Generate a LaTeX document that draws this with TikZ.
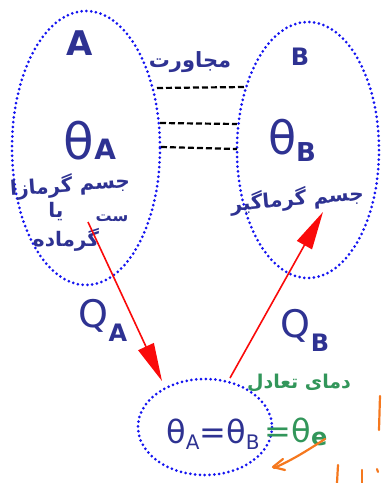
\documentclass[tikz,border=0pt]{standalone}
\usepackage{fontspec}
\setmainfont{DejaVu Sans}
\newfontfamily\fa[Script=Arabic]{DejaVu Sans}
\TeXXeTstate=1
\usetikzlibrary{arrows.meta}
\definecolor{ink}{RGB}{46,50,146}
\definecolor{dotblue}{RGB}{20,20,240}
\definecolor{hred}{RGB}{250,10,10}
\definecolor{hgreen}{RGB}{50,150,90}
\definecolor{horange}{RGB}{245,120,30}
\newcommand{\fs}[1]{\fontsize{#1}{#1}\selectfont}
\newcommand{\lowsub}[2]{\raisebox{#1}{#2}}
\tikzset{
  dotline/.style={draw=dotblue,line width=3pt,line cap=round,dash pattern=on 0pt off 4.8pt},
  inktext/.style={text=ink,inner sep=0pt},
  greentext/.style={text=hgreen,inner sep=0pt},
  heatarrow/.style={draw=hred,line width=1.6pt,-{Triangle[length=38pt,width=17pt]}},
  contact/.style={draw=black,line width=2.2pt,dash pattern=on 6pt off 3pt},
  orangestroke/.style={draw=horange,line width=2.2pt,line cap=round,line join=round}
}
\begin{document}
\begin{tikzpicture}[x=1pt,y=-1pt]
\useasboundingbox (0,0) rectangle (382,483);
% ellipses
\draw[dotline] (86,148) ellipse [x radius=74, y radius=137];
\draw[dotline] (308,150) ellipse [x radius=71, y radius=128];
\draw[dotline] (205,427) ellipse [x radius=67, y radius=48];
% contact lines
\coordinate (c1l) at (157,88); \coordinate (c1r) at (246,87);
\coordinate (c2l) at (160,123); \coordinate (c2r) at (237,124);
\coordinate (c3l) at (161,147); \coordinate (c3r) at (237,149);
\draw[contact] (c1l) -- (c1r);
\draw[contact] (c2l) -- (c2r);
\draw[contact] (c3l) -- (c3r);
% labels
\node[inktext,font=\bfseries\fs{34}] (lA) at (80,43) {A};
\node[inktext,font=\bfseries\fs{24}] (lB) at (300,57) {B};
\node[inktext,font=\fa\bfseries\fs{21}] (adj) at (190,62) {\beginR مجاورت\endR};
\node[inktext,font=\fs{50}] (tA) at (90,141) {θ\lowsub{0pt}{\bfseries\fs{28}A}};
\node[inktext,font=\fs{46}] (tB) at (292,140) {θ\lowsub{-7pt}{\bfseries\fs{26}B}};
\node[inktext,font=\fa\bfseries\fs{20},rotate=4] (hot1) at (70,185) {\beginR جسم گرمازا\endR};
\node[inktext,font=\fa\bfseries\fs{16}] (hot1b) at (112,218) {\beginR ست\endR};
\node[inktext,font=\fa\bfseries\fs{20}] (hot2) at (56,212) {\beginR یا\endR};
\node[inktext,font=\fa\bfseries\fs{20}] (hot3) at (66,240) {\beginR گرماده\endR};
\node[inktext,font=\fa\bfseries\fs{20},rotate=5] (cold) at (297,199) {\beginR جسم گرماگیر\endR};
% arrows
\coordinate (a1s) at (88,222);
\coordinate (a1e) at (162,381);
\coordinate (a2s) at (230,378);
\coordinate (a2e) at (323,212);
\draw[heatarrow] (a1s) -- (a1e);
\draw[heatarrow] (a2s) -- (a2e);
\node[inktext,font=\fs{38}] (QA) at (103,320) {Q\lowsub{-14pt}{\bfseries\fs{24}A}};
\node[inktext,font=\fs{38}] (QB) at (305,330) {Q\lowsub{-14pt}{\bfseries\fs{24}B}};
% equilibrium
\node[inktext,font=\fs{32}] (eq) at (213,434) {θ\lowsub{-6pt}{\fs{20}A}=θ\lowsub{-6pt}{\fs{20}B}};
\node[greentext,font=\fs{32}] (eqe) at (296,432) {=θ\lowsub{-3pt}{\bfseries\fs{24}e}};
\node[greentext,font=\fa\bfseries\fs{19}] (teq) at (299,383) {\beginR دمای تعادل\endR};
% orange marks
\draw[orangestroke] (325,439) .. controls (305,452) and (292,460) .. (274,468);
\draw[orangestroke] (283,459) -- (273,467) -- (285,470);
\draw[orangestroke] (380,396) -- (379,430);
\draw[orangestroke] (338,465) -- (337,483);
\draw[orangestroke] (362,470) -- (362,483);
\draw[orangestroke] (377,469) -- (378,472);
\end{tikzpicture}
\end{document}
